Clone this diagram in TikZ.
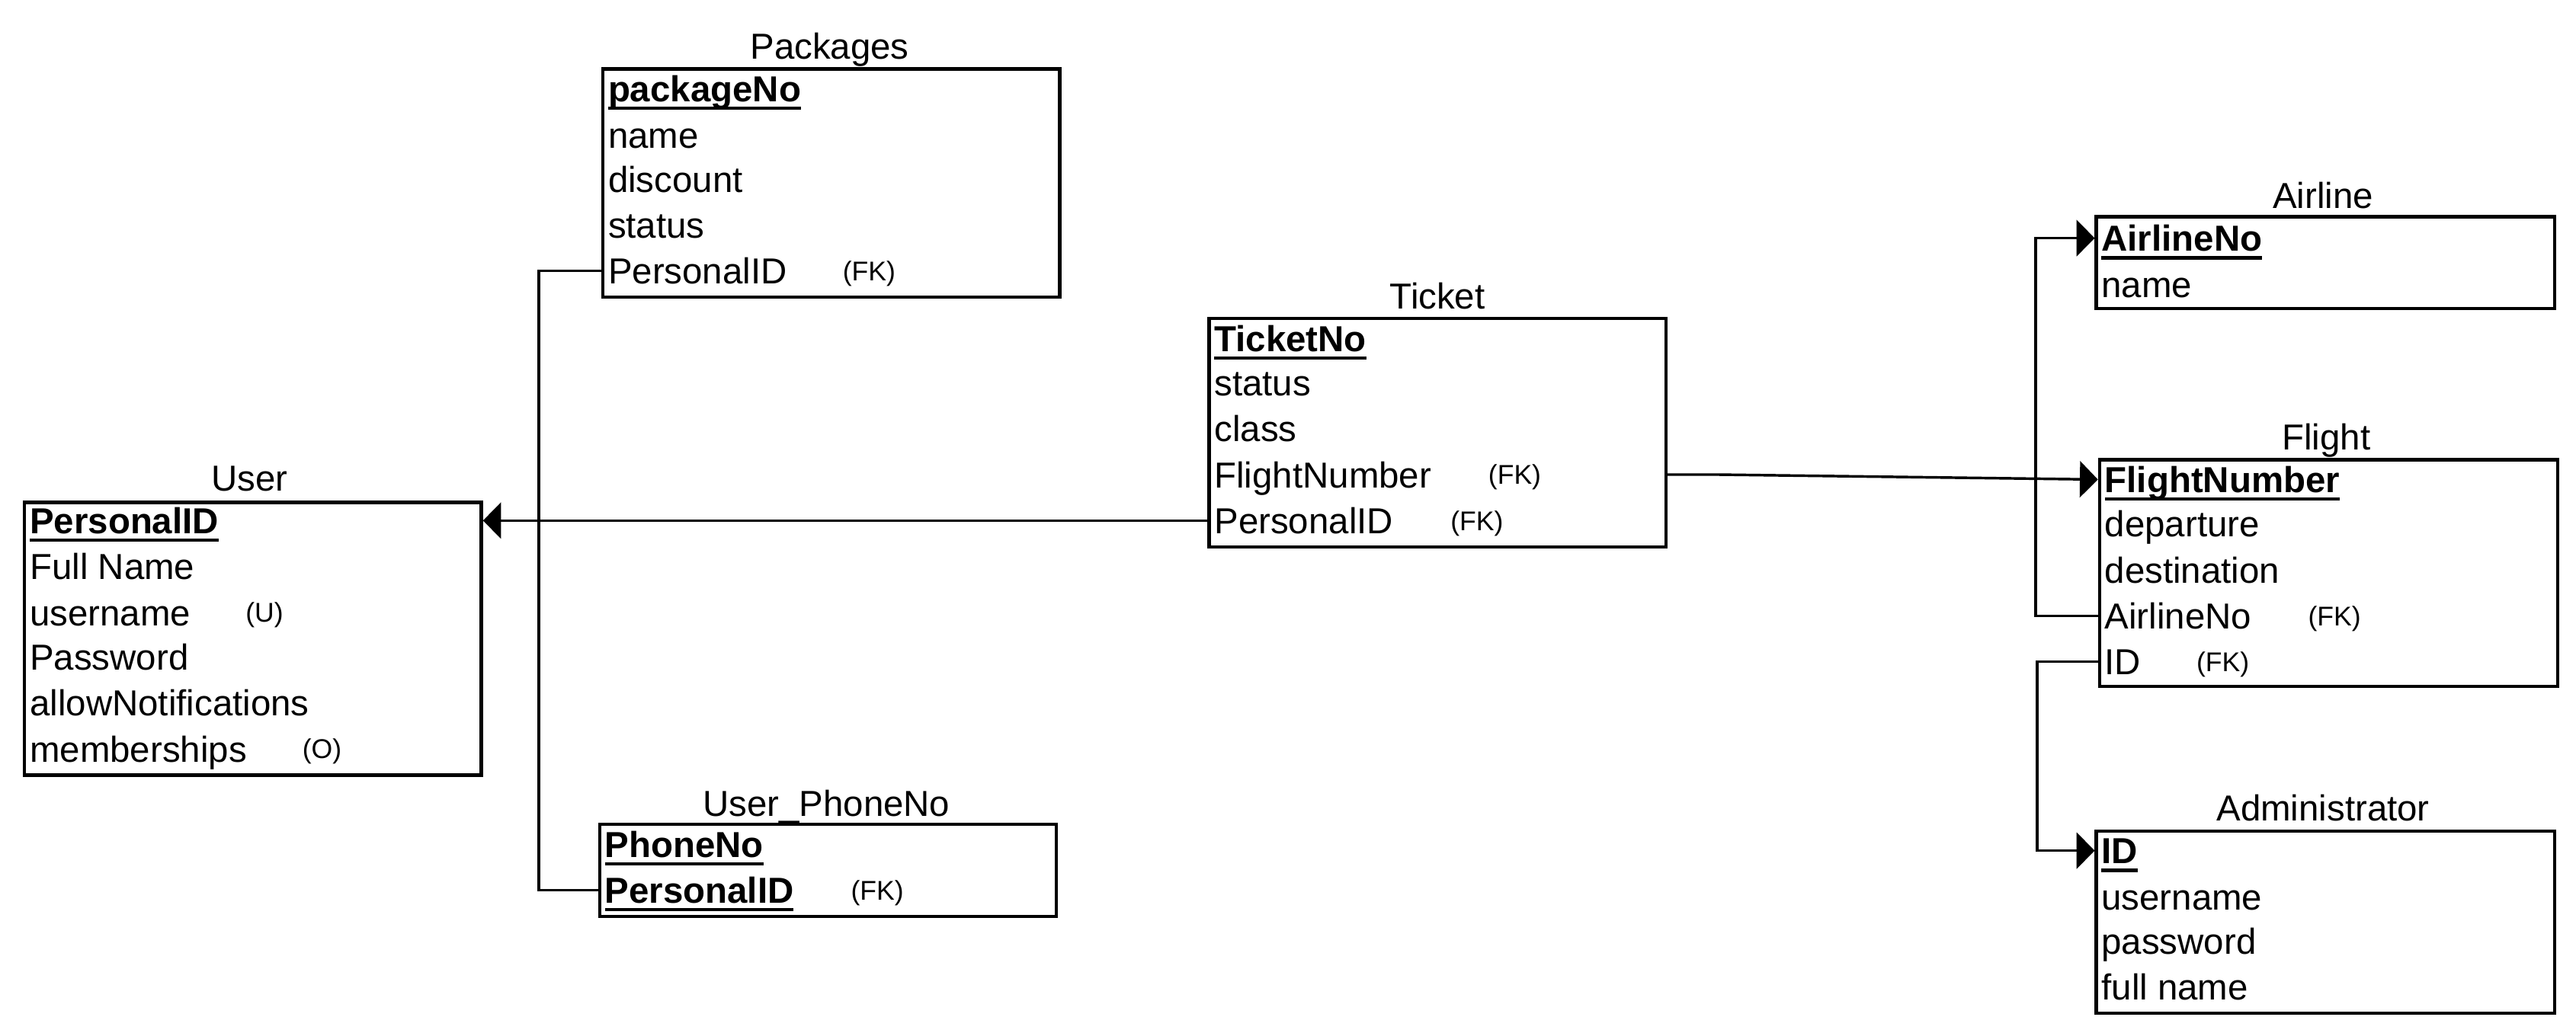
\documentclass[tikz,border=0pt]{standalone}
\usepackage{fontspec}
\setmainfont{Liberation Sans}
\usetikzlibrary{arrows.meta}
\newcommand\pkey[1]{\setbox0\hbox{\textbf{#1}}\rlap{\rule[-5pt]{\wd0}{2pt}}\box0}
\begin{document}
\begin{tikzpicture}[x=1pt,y=1pt,
 tbl/.style={draw, line width=2pt, anchor=north west, inner sep=0pt},
 fld/.style={anchor=west, inner xsep=0pt, inner ysep=0pt, text height=16pt, text depth=0pt, font=\fontsize{22}{26}\selectfont},
 tag/.style={inner sep=0pt, text height=12pt, text depth=0pt, font=\fontsize{16.5}{18}\selectfont},
 ttl/.style={inner sep=0pt, text height=16pt, text depth=0pt, font=\fontsize{22}{26}\selectfont},
 conn/.style={line width=1.6pt},
 arr/.style={conn, -{Triangle[length=11pt,width=22pt]}}]
\useasboundingbox (0,0) rectangle (1568,-629);

% User
\node[ttl] (userT) at (152,-291) {User};
\node[tbl, minimum width=278pt, minimum height=166pt] (user) at (14,-305) {};
\node[fld] (u1) at (18,-317) {\pkey{PersonalID}};
\node[fld] (u2) at (18,-345) {Full Name};
\node[fld] (u3) at (18,-373) {username};
\node[fld] (u4) at (18,-400) {Password};
\node[fld] (u5) at (18,-428) {allowNotifications};
\node[fld] (u6) at (18,-456) {memberships};
\node[tag] (u3t) at (161,-373) {(U)};
\node[tag] (u6t) at (196,-456) {(O)};

% Packages
\node[ttl] (pkgT) at (505,-28) {Packages};
\node[tbl, minimum width=278pt, minimum height=139pt] (pkg) at (366,-41) {};
\node[fld] (p1) at (370,-54) {\pkey{packageNo}};
\node[fld] (p2) at (370,-82) {name};
\node[fld] (p3) at (370,-109) {discount};
\node[fld] (p4) at (370,-137) {status};
\node[fld] (p5) at (370,-165) {PersonalID};
\node[tag] (p5t) at (529,-165) {(FK)};

% Ticket
\node[ttl] (tickT) at (875,-180) {Ticket};
\node[tbl, minimum width=278pt, minimum height=139pt] (tick) at (735,-193) {};
\node[fld] (t1) at (739,-206) {\pkey{TicketNo}};
\node[fld] (t2) at (739,-233) {status};
\node[fld] (t3) at (739,-261) {class};
\node[fld] (t4) at (739,-289) {FlightNumber};
\node[fld] (t5) at (739,-317) {PersonalID};
\node[tag] (t4t) at (922,-289) {(FK)};
\node[tag] (t5t) at (899,-317) {(FK)};

% User_PhoneNo
\node[ttl] (uphT) at (503,-489) {User\_PhoneNo};
\node[tbl, minimum width=278pt, minimum height=56pt] (uph) at (364,-501) {};
\node[fld] (h1) at (368,-514) {\pkey{PhoneNo}};
\node[fld] (h2) at (368,-542) {\pkey{PersonalID}};
\node[tag] (h2t) at (534,-542) {(FK)};

% Airline
\node[ttl] (airT) at (1414,-119) {Airline};
\node[tbl, minimum width=279pt, minimum height=56pt] (air) at (1275,-131) {};
\node[fld] (a1) at (1279,-145) {\pkey{AirlineNo}};
\node[fld] (a2) at (1279,-173) {name};

% Flight
\node[ttl] (fliT) at (1416,-266) {Flight};
\node[tbl, minimum width=279pt, minimum height=138pt] (fli) at (1277,-279) {};
\node[fld] (f1) at (1281,-292) {\pkey{FlightNumber}};
\node[fld] (f2) at (1281,-319) {departure};
\node[fld] (f3) at (1281,-347) {destination};
\node[fld] (f4) at (1281,-375) {AirlineNo};
\node[fld] (f5) at (1281,-403) {ID};
\node[tag] (f4t) at (1421,-375) {(FK)};
\node[tag] (f5t) at (1353,-403) {(FK)};

% Administrator
\node[ttl] (admT) at (1414,-492) {Administrator};
\node[tbl, minimum width=279pt, minimum height=111pt] (adm) at (1275,-505) {};
\node[fld] (d1) at (1279,-518) {\pkey{ID}};
\node[fld] (d2) at (1279,-546) {username};
\node[fld] (d3) at (1279,-573) {password};
\node[fld] (d4) at (1279,-601) {full name};

% Connectors
\draw[arr] (tick.west |- t5.west) -- (user.east |- u1.west);
\draw[conn] (pkg.west |- p5.west) -- ++(-38,0) |- (uph.west |- h2.west);
\draw[arr] (tick.east |- t4.west) -- ++(30,0) -- (fli.west |- f1.west);
\draw[arr] (fli.west |- f4.west) -- ++(-38,0) |- (air.west |- a1.west);
\draw[arr] (fli.west |- f5.west) -- ++(-37,0) |- (adm.west |- d1.west);
\end{tikzpicture}
\end{document}
